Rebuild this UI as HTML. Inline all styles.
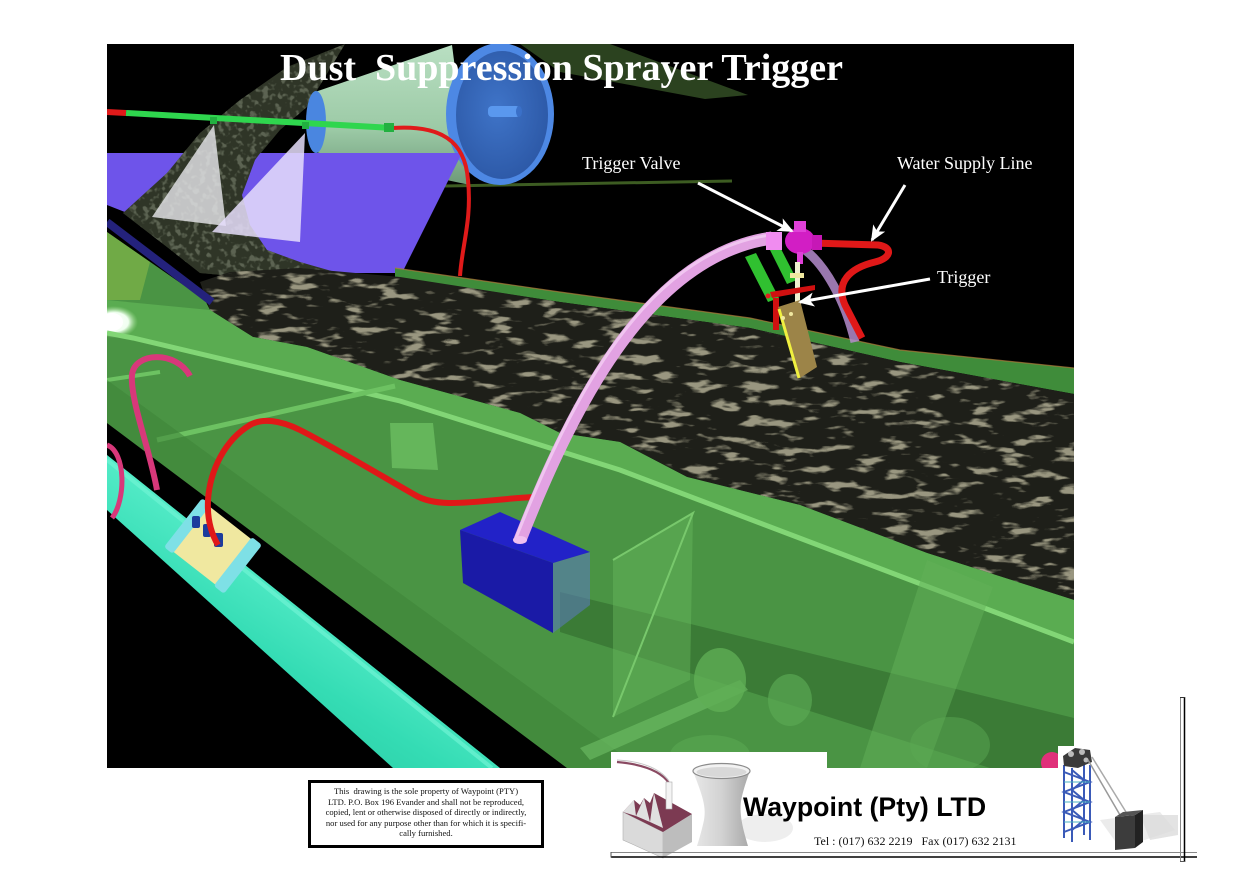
<!DOCTYPE html>
<html><head><meta charset="utf-8">
<style>
html,body{margin:0;padding:0;background:#fff;}
#wrap{position:relative;width:1255px;height:886px;overflow:hidden;background:#fff;}
svg{position:absolute;left:0;top:0;}
.disc{position:absolute;left:308px;top:780px;width:230px;height:59px;border:3px solid #000;background:#fff;
font-family:"Liberation Serif",serif;font-size:8.6px;line-height:10.5px;text-align:center;color:#111;padding-top:3px;box-sizing:content-box;}
</style></head><body><div id="wrap">
<svg width="1255" height="886" viewBox="0 0 1255 886" xmlns="http://www.w3.org/2000/svg">
<defs>
<clipPath id="img"><rect x="107" y="44" width="967" height="724"/></clipPath>
<filter id="coal" filterUnits="userSpaceOnUse" x="100" y="40" width="980" height="740" color-interpolation-filters="sRGB">
<feTurbulence type="fractalNoise" baseFrequency="0.035 0.11" numOctaves="3" seed="7" result="n"/>
<feColorMatrix in="n" type="matrix" values="0 0 0 0 0.6  0 0 0 0 0.59  0 0 0 0 0.5  7 0 0 0 -3.9" result="c"/>
<feComposite in="c" in2="SourceGraphic" operator="in"/>
</filter>
<filter id="rock" filterUnits="userSpaceOnUse" x="100" y="40" width="400" height="260" color-interpolation-filters="sRGB">
<feTurbulence type="fractalNoise" baseFrequency="0.16" numOctaves="2" seed="3" result="n"/>
<feColorMatrix in="n" type="matrix" values="0 0 0 0 0.36  0 0 0 0 0.39  0 0 0 0 0.32  6 0 0 0 -3.1" result="c"/>
<feComposite in="c" in2="SourceGraphic" operator="in"/>
</filter>
<linearGradient id="drum" x1="0" y1="0" x2="0" y2="1">
<stop offset="0" stop-color="#b9dfc2"/><stop offset="0.6" stop-color="#9ccaa6"/><stop offset="1" stop-color="#6d9a78"/></linearGradient>
<radialGradient id="discg" cx="0.45" cy="0.45" r="0.6">
<stop offset="0" stop-color="#3f74c8"/><stop offset="1" stop-color="#2c58a6"/></radialGradient>
<linearGradient id="teal" x1="0" y1="1" x2="0.55" y2="0.3">
<stop offset="0" stop-color="#1fb690"/><stop offset="0.6" stop-color="#34dcb4"/><stop offset="1" stop-color="#62f2d0"/></linearGradient>
<radialGradient id="glow" cx="0.5" cy="0.5" r="0.5">
<stop offset="0" stop-color="#ffffff"/><stop offset="0.6" stop-color="#f0fff0"/><stop offset="1" stop-color="#a0e090" stop-opacity="0"/></radialGradient>
<linearGradient id="tower" x1="0" y1="0" x2="1" y2="0">
<stop offset="0" stop-color="#e8e8e8"/><stop offset="0.5" stop-color="#d2d2d2"/><stop offset="1" stop-color="#a8a8a8"/></linearGradient>
<marker id="ah" markerUnits="userSpaceOnUse" markerWidth="16" markerHeight="14" refX="14" refY="7" orient="auto">
<path d="M0,0 L16,7 L0,14 L4,7 Z" fill="#fff"/></marker>
</defs>

<rect x="107" y="44" width="967" height="724" fill="#000"/>
<g clip-path="url(#img)">
<!-- belts behind drum -->
<polygon points="520,44 610,44 748,95 705,99 560,72" fill="#2b421f"/>
<line x1="445" y1="186" x2="732" y2="181" stroke="#3d5c22" stroke-width="3"/>
<!-- falling coal stream (behind drum) -->
<polygon points="345,44 287,67 240,100 200,133 167,173 123,213 167,247 200,273 300,282 335,272 300,262 267,250 250,225 242,195 255,160 280,130 307,107 322,82" fill="#2f3527"/>
<g filter="url(#rock)"><polygon points="345,44 287,67 240,100 200,133 167,173 123,213 167,247 200,273 300,282 335,272 300,262 267,250 250,225 242,195 255,160 280,130 307,107 322,82" fill="#fff"/></g>
<!-- drum -->
<path d="M315,92 L452,45 L470,185 L315,152 Z" fill="url(#drum)"/>
<ellipse cx="316" cy="122" rx="10" ry="31" fill="#4a86e0"/>
<ellipse cx="500" cy="114" rx="54" ry="71" fill="#4d88e4"/>
<ellipse cx="502" cy="115" rx="46" ry="64" fill="url(#discg)"/>
<rect x="488" y="106" width="32" height="11" rx="4" fill="#5a98ee"/>
<ellipse cx="519" cy="111.5" rx="3" ry="5.5" fill="#3a70c8"/>
<!-- purple chute -->
<polygon points="107,153 462,153 402,273 280,273 107,205" fill="#6e54ea"/>
<!-- stream front part over chute -->
<polygon points="240,100 200,133 167,173 123,213 167,247 200,273 300,282 335,272 300,262 267,250 250,225 242,195 255,160 270,140 255,120" fill="#2f3527"/>
<g filter="url(#rock)"><polygon points="240,100 200,133 167,173 123,213 167,247 200,273 300,282 335,272 300,262 267,250 250,225 242,195 255,160 270,140 255,120" fill="#fff"/></g>
<!-- red hose down from drum -->
<path d="M393,128 C440,125 465,140 468,180 C472,220 462,245 460,276" fill="none" stroke="#e01a1a" stroke-width="4"/>
<!-- far green band -->
<polygon points="395,268 560,292 750,318 900,350 1074,368 1074,394 900,362 750,328 560,302 395,277" fill="#3f8c3a"/>
<polyline points="395,268 560,292 750,318 900,350 1074,368" fill="none" stroke="#b07a3a" stroke-width="1.2" opacity="0.7"/>
<!-- coal bed -->
<polygon points="200,282 230,272 300,268 400,277 560,302 750,328 900,362 1074,394 1074,600 927,553 800,505 687,477 620,442 560,433 520,413 400,380 307,347 253,337 210,310" fill="#1e1f19"/>
<g filter="url(#coal)"><polygon points="200,282 230,272 300,268 400,277 560,302 750,328 900,362 1074,394 1074,600 927,553 800,505 687,477 620,442 560,433 520,413 400,380 307,347 253,337 210,310" fill="#fff"/></g>
<!-- spray cones -->
<polygon points="214,125 152,217 226,226" fill="#e4e4e8" opacity="0.82"/>
<polygon points="305,133 212,232 300,242" fill="#e6defc" opacity="0.85"/>
<!-- top pipe -->
<line x1="107" y1="112" x2="126" y2="113" stroke="#e01a1a" stroke-width="6"/>
<line x1="126" y1="113" x2="393" y2="128" stroke="#2fd64e" stroke-width="6"/>
<rect x="210" y="117" width="7" height="7" fill="#22b040"/>
<rect x="302" y="122" width="7" height="7" fill="#22b040"/>
<rect x="384" y="123" width="10" height="9" fill="#22b040"/>

<!-- green conveyor frame -->
<polygon points="107,232 205,300 210,310 253,337 307,347 400,380 520,413 560,433 620,442 687,477 800,505 927,553 1074,600 1074,768 567,768 107,423" fill="#4a9444"/>
<polygon points="210,310 253,337 307,347 400,380 520,413 560,433 620,442 687,477 800,505 927,553 1074,600 1074,642 620,470 400,402 133,340 107,332 107,300" fill="#5cae53" opacity="0.9"/>
<polygon points="107,232 150,262 140,300 107,300" fill="#8fbb48" opacity="0.55"/>
<ellipse cx="114" cy="322" rx="24" ry="16" fill="url(#glow)"/>
<ellipse cx="112" cy="322" rx="11" ry="9" fill="#fff"/>
<polyline points="107,333 133,338 400,401 620,470 1074,642" fill="none" stroke="#82d676" stroke-width="5"/>
<line x1="157" y1="440" x2="395" y2="386" stroke="#6dc262" stroke-width="5"/>
<line x1="107" y1="380" x2="160" y2="372" stroke="#6dc262" stroke-width="4"/>
<polygon points="390,423 433,423 438,470 392,468" fill="#68b95e" opacity="0.9"/>
<polygon points="107,423 567,768 640,768 107,380" fill="#3e8439" opacity="0.55"/>
<polygon points="560,592 1074,718 1074,768 990,768 560,632" fill="#336d30" opacity="0.65"/>
<polygon points="613,560 693,513 690,680 613,717" fill="#68b95e" opacity="0.45"/>
<polyline points="613,560 693,513 613,717 Z" fill="none" stroke="#78c86c" stroke-width="2"/>
<polygon points="580,748 740,680 748,690 590,760" fill="#70c066" opacity="0.6"/>
<polygon points="927,560 993,587 927,768 860,768" fill="#62b058" opacity="0.5"/>
<ellipse cx="720" cy="680" rx="26" ry="32" fill="#5fae55" opacity="0.8"/>
<ellipse cx="790" cy="700" rx="22" ry="26" fill="#5aa852" opacity="0.7"/>
<ellipse cx="710" cy="755" rx="40" ry="20" fill="#5aa852" opacity="0.6"/>
<ellipse cx="950" cy="745" rx="40" ry="28" fill="#5aa852" opacity="0.5"/>
<!-- dark blue skirt bar -->
<line x1="107" y1="222" x2="212" y2="302" stroke="#24227c" stroke-width="8"/>

<!-- teal pipe -->
<polygon points="107,455 500,768 393,768 107,510" fill="url(#teal)"/>
<line x1="107" y1="460" x2="492" y2="768" stroke="#6ff4d4" stroke-width="4" opacity="0.7"/>
<g transform="translate(213,546) rotate(38)">
<rect x="-34" y="-29" width="68" height="58" fill="#f0e8a0"/>
<rect x="-38" y="-31" width="11" height="62" rx="3" fill="#7ee0e6"/>
<rect x="25" y="-31" width="13" height="62" rx="3" fill="#7ee0e6"/>
</g>
<rect x="192" y="516" width="8" height="12" rx="2" fill="#1c3c9c"/>
<rect x="203" y="524" width="8" height="13" rx="2" fill="#1c3c9c"/>
<rect x="214" y="533" width="9" height="14" rx="2" fill="#1c3c9c"/>

<!-- pink left hose -->
<path d="M157,490 C150,450 130,400 132,375 C134,352 176,350 190,376" fill="none" stroke="#d8387a" stroke-width="6"/>
<path d="M107,445 C126,452 126,500 112,518" fill="none" stroke="#d8387a" stroke-width="5"/>
<!-- red lower hose -->
<path d="M533,497 C480,500 440,510 415,495 C380,475 330,445 300,430 C280,420 262,418 250,425 C225,440 210,470 208,500 C207,520 212,535 218,545" fill="none" stroke="#e01818" stroke-width="6"/>
<!-- blue box -->
<polygon points="553,563 590,552 590,605 553,633" fill="#5a7ab8" opacity="0.6"/>
<polygon points="460,530 500,512 590,552 553,563" fill="#2222c8"/>
<polygon points="460,530 553,563 553,633 463,583" fill="#1a1aa6"/>

<!-- lavender hose behind valve -->
<path d="M805,250 C825,265 845,300 855,342" fill="none" stroke="#b48ccc" stroke-width="9" opacity="0.85"/>
<!-- red water supply hose -->
<path d="M812,243 L878,245 C893,247 892,258 875,262 C850,268 835,282 845,305 L862,338" fill="none" stroke="#e01818" stroke-width="7"/>
<!-- pink main hose -->
<path d="M520,540 C575,400 650,255 772,238" fill="none" stroke="#e2a2e2" stroke-width="13"/>
<path d="M516,538 C571,398 646,252 770,235" fill="none" stroke="#f4cef4" stroke-width="3" opacity="0.8"/>
<ellipse cx="520" cy="540" rx="7" ry="4" fill="#f0c0f0"/>
<!-- levers -->
<polygon points="745,257 756,253 779,298 768,302" fill="#30c030"/>
<polygon points="770,250 780,247 797,280 787,284" fill="#30c030"/>
<circle cx="768" cy="296" r="2.5" fill="#e02020"/>
<!-- valve -->
<rect x="766" y="232" width="16" height="18" fill="#f08cf0"/>
<ellipse cx="800" cy="241" rx="15" ry="13" fill="#d21ec4"/>
<rect x="794" y="221" width="12" height="11" fill="#e040d8"/>
<rect x="812" y="235" width="10" height="15" fill="#c618b6"/>
<rect x="797" y="252" width="6" height="12" fill="#e040d8"/>
<!-- trigger -->
<rect x="795" y="262" width="5" height="50" fill="#f0f0d0"/>
<rect x="790" y="273" width="14" height="5" fill="#f0e8a0"/>
<polygon points="770,292 815,285 815,290 772,298" fill="#d01010"/>
<rect x="773" y="298" width="6" height="32" fill="#d01010"/>
<polygon points="778,307 800,300 817,367 800,378" fill="#9c8448"/>
<line x1="779" y1="309" x2="799" y2="378" stroke="#f0f040" stroke-width="3"/>
<circle cx="783" cy="318" r="2" fill="#f0e8a0"/>
<circle cx="791" cy="314" r="2" fill="#f0e8a0"/>

<!-- pink ball bottom right -->
<circle cx="1052" cy="763" r="11" fill="#e0307a"/>
</g>

<!-- title and labels -->
<text x="280" y="80" font-family="Liberation Serif, serif" font-weight="bold" font-size="38" fill="#fff">Dust&#160; Suppression Sprayer Trigger</text>
<text x="582" y="169" font-family="Liberation Serif, serif" font-size="18" fill="#fff">Trigger Valve</text>
<text x="897" y="169" font-family="Liberation Serif, serif" font-size="18" fill="#fff">Water Supply Line</text>
<text x="937" y="283" font-family="Liberation Serif, serif" font-size="18" fill="#fff">Trigger</text>
<line x1="698" y1="183" x2="792" y2="231" stroke="#fff" stroke-width="3" marker-end="url(#ah)"/>
<line x1="905" y1="185" x2="872" y2="240" stroke="#fff" stroke-width="3" marker-end="url(#ah)"/>
<line x1="930" y1="279" x2="800" y2="302" stroke="#fff" stroke-width="3" marker-end="url(#ah)"/>

<!-- white panels over image -->
<rect x="611" y="752" width="216" height="17" fill="#fff"/>
<rect x="1058" y="746" width="17" height="23" fill="#fff"/>

<!-- factory logo -->
<path d="M617,762 C640,764 660,770 669,783" fill="none" stroke="#8a4a62" stroke-width="2.2"/>
<path d="M617,760 C640,761 660,768 669,781" fill="none" stroke="#c8c8c8" stroke-width="1"/>
<polygon points="623,812 663,832 663,858 623,840" fill="#dadada" stroke="#b0b0b0" stroke-width="0.6"/>
<polygon points="663,832 692,814 692,842 663,858" fill="#bdbdbd"/>
<polygon points="623,812 634,800 640,805 644,798 650,803 654,793 692,814 663,832" fill="#7c3a52"/>
<polygon points="623,812 634,800 636,816" fill="#e0e0e0"/>
<polygon points="636,816 644,798 650,822" fill="#e0e0e0"/>
<polygon points="650,822 654,793 663,828" fill="#e0e0e0"/>
<rect x="666" y="782" width="6" height="27" fill="#f4f4f4" stroke="#aaa" stroke-width="0.6"/>
<!-- cooling tower -->
<ellipse cx="765" cy="828" rx="28" ry="14" fill="#eeeeee"/>
<path d="M693,771 C700,790 707,805 704,820 C701,834 697,846 697,846 L748,846 C744,832 739,816 741,801 C744,786 750,771 750,771 Z" fill="url(#tower)"/>
<ellipse cx="721.5" cy="771" rx="28.5" ry="7.5" fill="#f2f2f2" stroke="#8c8c8c" stroke-width="1.2"/>
<ellipse cx="721.5" cy="772" rx="25" ry="5" fill="#d8d8d8"/>

<text x="743" y="816" font-family="Liberation Sans, sans-serif" font-weight="bold" font-size="26.7" fill="#000">Waypoint (Pty) LTD</text>
<text x="814" y="845" font-family="Liberation Serif, serif" font-size="12" fill="#111" xml:space="preserve">Tel : (017) 632 2219   Fax (017) 632 2131</text>

<!-- headframe tower -->
<polygon points="1100,820 1160,812 1175,830 1120,848" fill="#e6e6e6" opacity="0.8"/>
<polygon points="1140,815 1178,815 1178,835 1150,840" fill="#dcdcdc" opacity="0.8"/>
<g stroke="#3a5ab8" stroke-width="2" fill="none">
<line x1="1064" y1="765" x2="1064" y2="838"/>
<line x1="1072" y1="768" x2="1072" y2="842"/>
<line x1="1084" y1="762" x2="1084" y2="835"/>
<line x1="1090" y1="765" x2="1090" y2="840"/>
<polyline points="1064,772 1090,782 1064,792 1090,802 1064,812 1090,822 1064,832"/>
<polyline points="1072,770 1084,780 1072,790 1084,800 1072,810 1084,820 1072,830"/>
</g>
<g stroke="#4ab0c0" stroke-width="1" fill="none">
<line x1="1064" y1="782" x2="1090" y2="782"/><line x1="1064" y1="802" x2="1090" y2="802"/><line x1="1064" y1="822" x2="1090" y2="822"/>
</g>
<polygon points="1063,756 1075,748 1090,750 1092,762 1078,768 1064,766" fill="#3a3a3a"/>
<circle cx="1071" cy="754" r="3" fill="#bbb"/><circle cx="1082" cy="752" r="3" fill="#bbb"/><circle cx="1086" cy="760" r="2.5" fill="#bbb"/>
<line x1="1088" y1="760" x2="1120" y2="815" stroke="#999" stroke-width="1.5"/>
<line x1="1092" y1="757" x2="1126" y2="812" stroke="#aaa" stroke-width="1.5"/>
<polygon points="1115,817 1135,815 1135,848 1115,850" fill="#3c3c3c"/>
<polygon points="1135,815 1143,810 1143,842 1135,848" fill="#222"/>
<polygon points="1115,817 1123,812 1143,810 1135,815" fill="#555"/>

<!-- border lines -->
<line x1="611" y1="852.5" x2="1197" y2="852.5" stroke="#888" stroke-width="1"/>
<line x1="611" y1="857" x2="1197" y2="857" stroke="#000" stroke-width="1.5"/>
<line x1="611" y1="852" x2="611" y2="857.5" stroke="#555" stroke-width="1"/>
<line x1="1180.5" y1="697" x2="1180.5" y2="862" stroke="#888" stroke-width="1"/>
<line x1="1184.5" y1="697" x2="1184.5" y2="862" stroke="#000" stroke-width="1.5"/>
<line x1="1180" y1="697.5" x2="1185" y2="697.5" stroke="#333" stroke-width="1"/>
<line x1="1180" y1="861.5" x2="1185" y2="861.5" stroke="#555" stroke-width="1"/>
</svg>
<div class="disc">This&nbsp; drawing is the sole property of Waypoint (PTY)<br>LTD. P.O. Box 196 Evander and shall not be reproduced,<br>copied, lent or otherwise disposed of directly or indirectly,<br>nor used for any purpose other than for which it is specifi-<br>cally furnished.</div>
</div></body></html>
